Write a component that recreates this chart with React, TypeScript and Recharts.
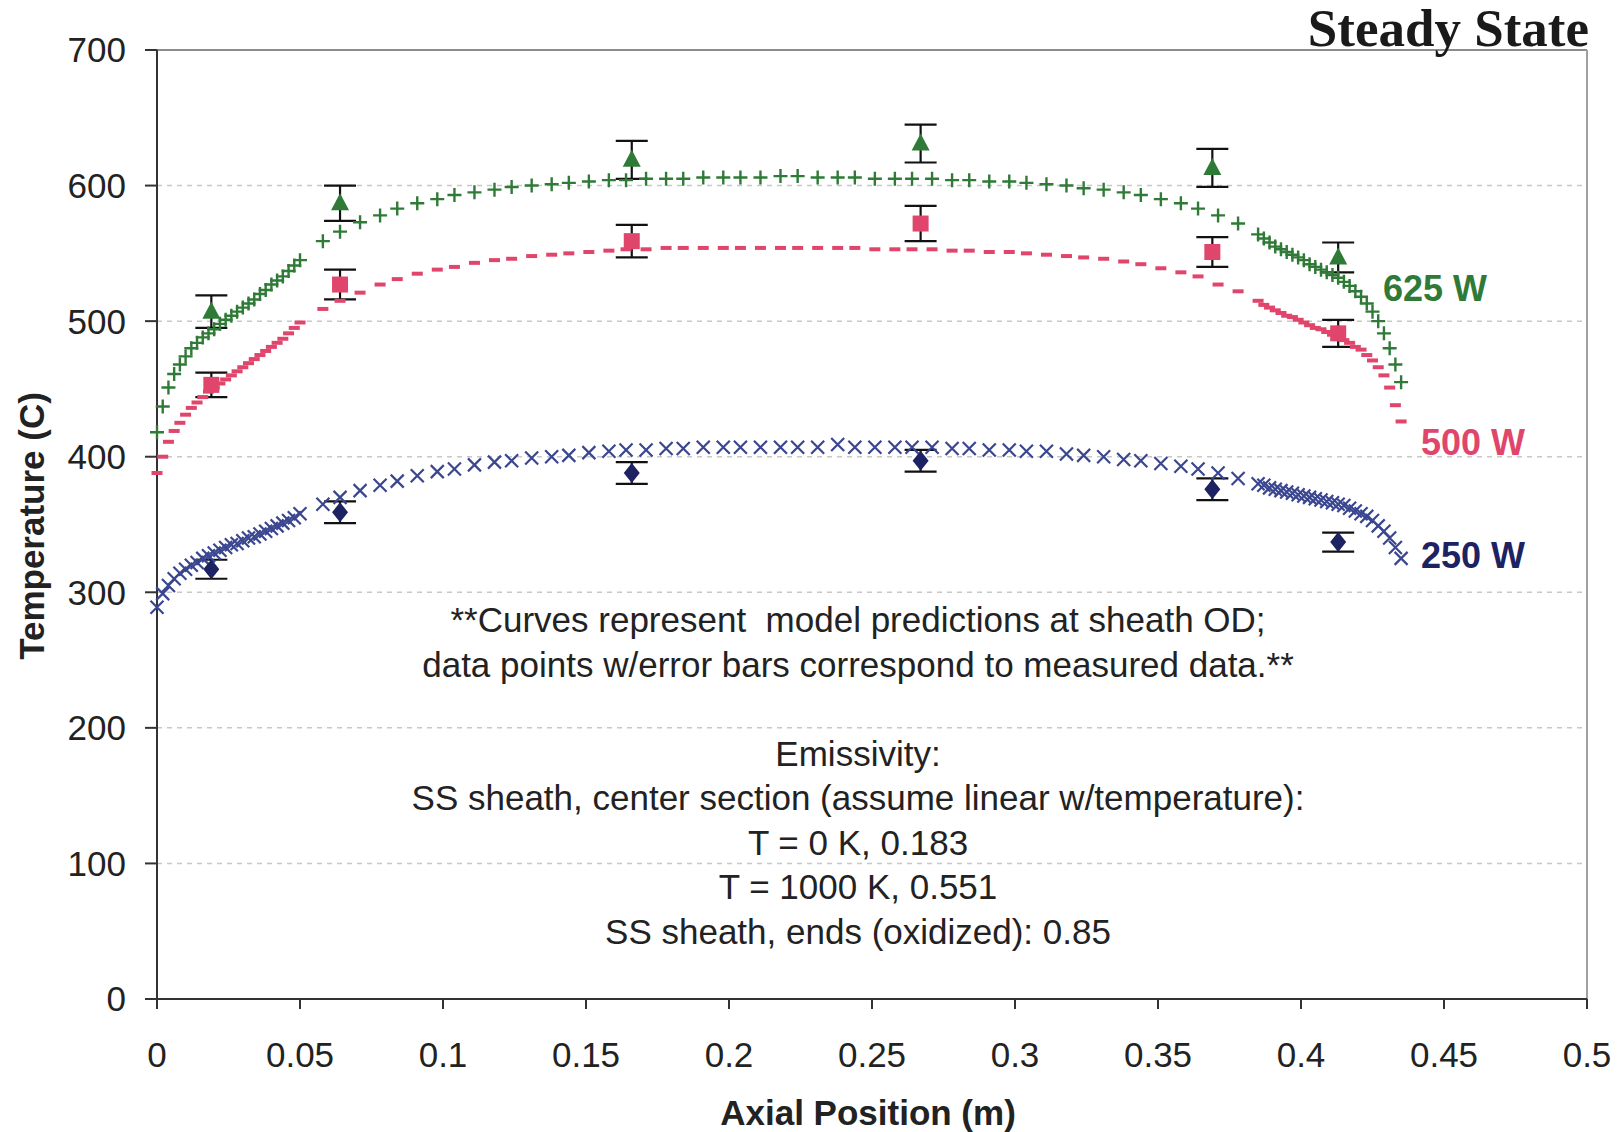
import React from "react";
import {
  ScatterChart,
  Scatter,
  XAxis,
  YAxis,
  CartesianGrid,
  ErrorBar,
  ReferenceLine,
} from "recharts";

// model curve positions (m): dense near the oxidized ends, sparse in the centre section
const xLeft = [
  0, 0.002, 0.004, 0.006, 0.008, 0.01, 0.012, 0.014, 0.016, 0.018, 0.02, 0.022, 0.024,
  0.026, 0.028, 0.03, 0.032, 0.034, 0.036, 0.038, 0.04, 0.042, 0.044, 0.046, 0.048, 0.05,
];
const xMid = [
  0.058, 0.064, 0.071, 0.078, 0.084, 0.091, 0.098, 0.104, 0.111, 0.118,
  0.124, 0.131, 0.138, 0.144, 0.151, 0.158, 0.164, 0.171, 0.178, 0.184,
  0.191, 0.198, 0.204, 0.211, 0.218, 0.224, 0.231, 0.238, 0.244, 0.251,
  0.258, 0.264, 0.271, 0.278, 0.284, 0.291, 0.298, 0.304, 0.311, 0.318,
  0.324, 0.331, 0.338, 0.344, 0.351, 0.358, 0.364, 0.371, 0.378,
];
const xRight = [
  0.385, 0.387, 0.389, 0.391, 0.393, 0.395, 0.397, 0.399, 0.401, 0.403, 0.405, 0.407, 0.409,
  0.411, 0.413, 0.415, 0.417, 0.419, 0.421, 0.423, 0.425, 0.427, 0.429, 0.431, 0.433, 0.435,
];

// 625 W model
const m625Left = [
  418, 437, 451, 461, 468, 474, 480, 484, 488, 491, 494, 498, 501,
  504, 507, 510, 513, 516, 520, 523, 527, 530, 533, 537, 541, 545,
];
const m625Mid = [
  559, 566, 573, 578, 583, 587, 590, 593, 595, 597,
  599, 600, 601, 602, 603, 604, 604, 605, 605, 605,
  606, 606, 606, 606, 607, 607, 606, 606, 606, 605,
  605, 605, 605, 604, 604, 603, 603, 602, 601, 600,
  598, 597, 595, 593, 590, 587, 583, 578, 572,
];
const m625Right = [
  564, 561, 558, 555, 553, 551, 549, 547, 545, 542, 540, 538, 536,
  534, 532, 529, 526, 522, 518, 513, 507, 500, 491, 480, 468, 455,
];

// 500 W model
const m500Left = [
  388, 400, 411, 419, 425, 431, 436, 440, 444, 448, 451, 454, 457,
  460, 463, 466, 469, 472, 475, 478, 481, 484, 487, 491, 495, 499,
];
const m500Mid = [
  509, 515, 521, 527, 531, 535, 538, 540, 543, 545,
  546, 548, 549, 550, 551, 552, 553, 553, 554, 554,
  554, 554, 554, 554, 554, 554, 554, 554, 554, 553,
  553, 553, 553, 552, 552, 551, 551, 550, 549, 548,
  547, 546, 544, 542, 539, 536, 533, 527, 522,
];
const m500Right = [
  515, 512, 510, 508, 506, 504, 503, 501, 499, 497, 495, 494, 492,
  490, 488, 486, 484, 481, 479, 475, 471, 466, 460, 451, 438, 426,
];

// 250 W model
const m250Left = [
  289, 299, 305, 310, 314, 317, 320, 322, 325, 327, 329, 331, 333,
  335, 336, 338, 340, 341, 343, 345, 347, 349, 351, 353, 355, 358,
];
const m250Mid = [
  365, 370, 375, 379, 382, 386, 389, 391, 394, 396,
  397, 399, 400, 401, 403, 404, 405, 405, 406, 406,
  407, 407, 407, 407, 407, 407, 407, 409, 407, 407,
  407, 407, 407, 406, 406, 405, 405, 404, 404, 402,
  401, 400, 398, 397, 395, 393, 391, 388, 384,
];
const m250Right = [
  380, 379, 377, 376, 375, 374, 373, 372, 371, 370, 369, 368, 367,
  366, 365, 364, 362, 360, 358, 356, 353, 349, 345, 340, 333, 325,
];

// measured thermocouple data with error bars
const xMeas = [0.019, 0.064, 0.166, 0.267, 0.369, 0.413];
const t625 = [507, 587, 619, 631, 613, 547];
const e625 = [12, 13, 14, 14, 14, 11];
const t500 = [453, 527, 559, 572, 551, 491];
const e500 = [9, 11, 12, 13, 11, 10];
const t250 = [317, 359, 388, 397, 376, 337];
const e250 = [7, 8, 8, 8, 8, 7];

const xTicks = [0, 0.05, 0.1, 0.15, 0.2, 0.25, 0.3, 0.35, 0.4, 0.45, 0.5];
const yTicks = [0, 100, 200, 300, 400, 500, 600, 700];

const notes = [
  "**Curves represent  model predictions at sheath OD;",
  "data points w/error bars correspond to measured data.**",
  "",
  "Emissivity:",
  "SS sheath, center section (assume linear w/temperature):",
  "T = 0 K, 0.183",
  "T = 1000 K, 0.551",
  "SS sheath, ends (oxidized): 0.85",
];

const xModel = [...xLeft, ...xMid, ...xRight];
const curve = (ys: number[]) => ys.map((y, i) => ({ x: xModel[i], y }));
const measured = (ys: number[], errs: number[]) =>
  ys.map((y, i) => ({ x: xMeas[i], y, err: errs[i] }));

const GREEN = "#2f7a37";
const PINK = "#e0466b";
const NAVY = "#3a4690";
const NAVY_DARK = "#1d2262";
const FONT = "'Liberation Sans', Arial, sans-serif";

const PlusMark = ({ cx, cy }: any) => (
  <path
    d={`M${cx - 7},${cy}H${cx + 7}M${cx},${cy - 7}V${cy + 7}`}
    stroke={GREEN}
    strokeWidth={2.4}
    fill="none"
  />
);
const DashMark = ({ cx, cy }: any) => (
  <path d={`M${cx - 5.5},${cy}H${cx + 5.5}`} stroke={PINK} strokeWidth={4} fill="none" />
);
const CrossMark = ({ cx, cy }: any) => (
  <path
    d={`M${cx - 6.5},${cy - 6.5}L${cx + 6.5},${cy + 6.5}M${cx + 6.5},${cy - 6.5}L${cx - 6.5},${cy + 6.5}`}
    stroke={NAVY}
    strokeWidth={2.2}
    fill="none"
  />
);
const TriangleMark = ({ cx, cy }: any) => (
  <path d={`M${cx},${cy - 10}L${cx + 9},${cy + 7}L${cx - 9},${cy + 7}Z`} fill={GREEN} />
);
const SquareMark = ({ cx, cy }: any) => (
  <rect x={cx - 8} y={cy - 8} width={16} height={16} fill={PINK} />
);
const DiamondMark = ({ cx, cy }: any) => (
  <path d={`M${cx},${cy - 10}L${cx + 8},${cy}L${cx},${cy + 10}L${cx - 8},${cy}Z`} fill={NAVY_DARK} />
);

const tickStyle = { fill: "#222", fontSize: 35, fontFamily: FONT };

export default function App() {
  return (
    <div style={{ position: "relative", width: 1618, height: 1132, background: "#fff" }}>
      <style>{"body{margin:0;background:#fff}"}</style>
      <ScatterChart width={1618} height={1132} margin={{ top: 50, right: 31, bottom: 0, left: 0 }}>
        <CartesianGrid vertical={false} stroke="#c8c8c8" strokeDasharray="5 5" strokeWidth={1.5} />
        <XAxis
          type="number"
          dataKey="x"
          domain={[0, 0.5]}
          ticks={xTicks}
          height={133}
          stroke="#333"
          strokeWidth={2}
          tickSize={10}
          tickMargin={33}
          tick={tickStyle}
        />
        <YAxis
          type="number"
          dataKey="y"
          domain={[0, 700]}
          ticks={yTicks}
          width={157}
          stroke="#333"
          strokeWidth={2}
          tickSize={12}
          tickMargin={19}
          tick={tickStyle}
        />
        <ReferenceLine y={700} stroke="#8c8c8c" strokeWidth={2} />
        <ReferenceLine x={0.5} stroke="#a0a0a0" strokeWidth={2} />

        <Scatter data={curve([...m250Left, ...m250Mid, ...m250Right])} shape={CrossMark} isAnimationActive={false} />
        <Scatter data={curve([...m500Left, ...m500Mid, ...m500Right])} shape={DashMark} isAnimationActive={false} />
        <Scatter data={curve([...m625Left, ...m625Mid, ...m625Right])} shape={PlusMark} isAnimationActive={false} />

        <Scatter data={measured(t250, e250)} shape={DiamondMark} isAnimationActive={false}>
          <ErrorBar dataKey="err" direction="y" width={16} stroke="#111" strokeWidth={2.2} />
        </Scatter>
        <Scatter data={measured(t500, e500)} shape={SquareMark} isAnimationActive={false}>
          <ErrorBar dataKey="err" direction="y" width={16} stroke="#111" strokeWidth={2.2} />
        </Scatter>
        <Scatter data={measured(t625, e625)} shape={TriangleMark} isAnimationActive={false}>
          <ErrorBar dataKey="err" direction="y" width={16} stroke="#111" strokeWidth={2.2} />
        </Scatter>
      </ScatterChart>

      {/* text overlay: title, series labels, axis titles, notes */}
      <svg
        width={1618}
        height={1132}
        style={{ position: "absolute", left: 0, top: 0, pointerEvents: "none" }}
      >
        <text x={1589} y={46} textAnchor="end" fontFamily="'Liberation Serif', 'Times New Roman', serif" fontWeight="bold" fontSize={53} fill="#1a1a1a">
          Steady State
        </text>
        <text x={1383} y={301} fontFamily={FONT} fontWeight="bold" fontSize={36} fill={GREEN}>625 W</text>
        <text x={1421} y={455} fontFamily={FONT} fontWeight="bold" fontSize={36} fill={PINK}>500 W</text>
        <text x={1421} y={568} fontFamily={FONT} fontWeight="bold" fontSize={36} fill={NAVY_DARK}>250 W</text>

        <text x={868} y={1125} textAnchor="middle" fontFamily={FONT} fontWeight="bold" fontSize={35} fill="#222">
          Axial Position (m)
        </text>
        <text x={44} y={526} transform="rotate(-90 44 526)" textAnchor="middle" fontFamily={FONT} fontWeight="bold" fontSize={35} fill="#222">
          Temperature (C)
        </text>

        {notes.map((line, i) => (
          <text
            key={i}
            x={858}
            y={632 + i * 44.5}
            textAnchor="middle"
            fontFamily={FONT}
            fontSize={35}
            fill="#222"
            style={{ whiteSpace: "pre" }}
          >
            {line}
          </text>
        ))}
      </svg>
    </div>
  );
}
